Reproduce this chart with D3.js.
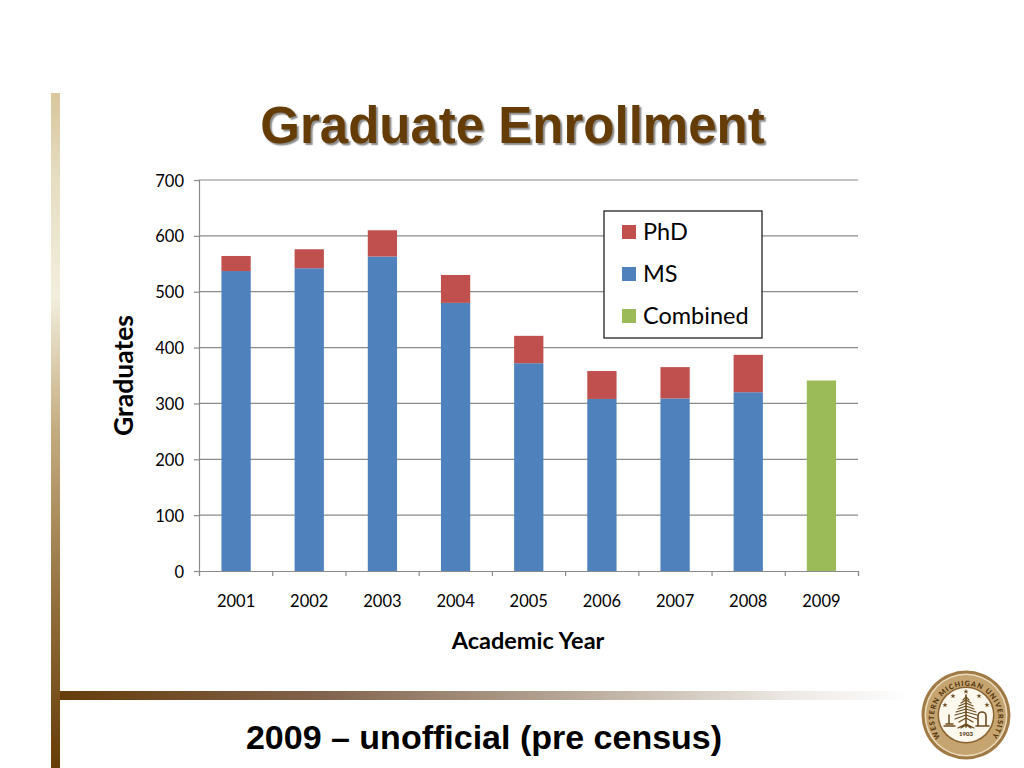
<!DOCTYPE html>
<html><head><meta charset="utf-8">
<script src="https://cdn.jsdelivr.net/npm/d3@7"></script>
<style>
html,body{margin:0;padding:0;background:#fff;overflow:hidden}
svg{display:block}
text{font-family:Lato,"Open Sans",sans-serif;fill:#000}
</style></head><body>
<svg id="c" width="1024" height="768"></svg>
<script>
const categories=["2001","2002","2003","2004","2005","2006","2007","2008","2009"];
const msValues=[537,542,563,480,372,308,309,320,0];
const phdValues=[27,34,47,50,49,50,56,67,0];
const combinedValues=[0,0,0,0,0,0,0,0,341];
const yTicks=[0,100,200,300,400,500,600,700];
const seriesNames=["PhD","MS","Combined"];
const seriesColors=["#c0504d","#4f81bd","#9bbb59"];
const titleText="Graduate Enrollment";
const footerText="2009 – unofficial (pre census)";
const xTitle="Academic Year";
const yTitle="Graduates";

const svg=d3.select("#c");
const defs=svg.append("defs");
const g1=defs.append("linearGradient").attr("id","vbar").attr("x1",0).attr("y1",0).attr("x2",0).attr("y2",1);
[[0,"#d8c69c"],[0.12,"#e6dcc0"],[0.3,"#f3eedd"],[0.5,"#c4ac80"],[0.75,"#94703e"],[1,"#663c06"]].forEach(d=>g1.append("stop").attr("offset",d[0]).attr("stop-color",d[1]));
const g2=defs.append("linearGradient").attr("id","hbar").attr("x1",0).attr("y1",0).attr("x2",1).attr("y2",0);
[[0,"#663c0a"],[0.3,"#80614a"],[0.6,"#b7a797"],[0.85,"#ece7e2"],[1,"#ffffff"]].forEach(d=>g2.append("stop").attr("offset",d[0]).attr("stop-color",d[1]));

svg.append("rect").attr("x",51).attr("y",93).attr("width",9).attr("height",675).attr("fill","url(#vbar)");
svg.append("rect").attr("x",60).attr("y",691).attr("width",850).attr("height",9).attr("fill","url(#hbar)");

svg.append("text").attr("x",512.5).attr("y",142.5).attr("text-anchor","middle")
  .style("font-family","Liberation Sans").style("font-weight",700).style("font-size","51px").style("fill","#663c06")
  .style("text-shadow","2px 2px 1.5px #8a8a8a").text(titleText);

const x=d3.scaleBand().domain(categories).range([199.5,858]).paddingInner(0.6).paddingOuter(0.3);
const xEdges=d3.scaleLinear().domain([0,categories.length]).range([199,858]);
const y=d3.scaleLinear().domain([0,700]).range([571,180]);

svg.append("g").selectAll("line").data(yTicks.slice(1)).join("line")
  .attr("x1",199).attr("x2",858).attr("y1",d=>y(d)).attr("y2",d=>y(d)).attr("stroke","#8a8a8a").attr("stroke-width",1.2);

const rows=categories.map((c,i)=>({c,MS:msValues[i],PhD:phdValues[i],Combined:combinedValues[i]}));
const stack=d3.stack().keys(["MS","PhD","Combined"])(rows);
const colorOf={PhD:seriesColors[0],MS:seriesColors[1],Combined:seriesColors[2]};
svg.append("g").selectAll("g").data(stack).join("g").attr("fill",s=>colorOf[s.key])
  .selectAll("rect").data(s=>s).join("rect")
  .attr("x",d=>x(d.data.c)).attr("width",x.bandwidth())
  .attr("y",d=>y(d[1])).attr("height",d=>y(d[0])-y(d[1]));

const ya=svg.append("g").attr("transform","translate(199,0)")
  .call(d3.axisLeft(y).tickValues(yTicks).tickSize(5).tickPadding(10));
const xa=svg.append("g").attr("transform","translate(0,571)")
  .call(d3.axisBottom(xEdges).tickValues(d3.range(categories.length+1)).tickSize(5).tickFormat(""));
[ya,xa].forEach(a=>{a.selectAll(".domain,line").attr("stroke","#8a8a8a").attr("stroke-width",1.2);});
ya.selectAll("text").style("font-size","16.5px").style("font-family","Lato").attr("fill","#000").attr("dy","0.37em");
svg.append("g").selectAll("text").data(categories).join("text")
  .attr("x",d=>x(d)+x.bandwidth()/2).attr("y",607).attr("text-anchor","middle").style("font-size","16.5px").text(d=>d);

svg.append("text").attr("x",528).attr("y",649).attr("text-anchor","middle").style("font-size","23.5px").style("font-weight",700).text(xTitle);
svg.append("text").attr("transform","translate(133,375.5) rotate(-90)").attr("text-anchor","middle").style("font-size","26.5px").style("font-weight",700).text(yTitle);

svg.append("rect").attr("x",604).attr("y",211).attr("width",158).attr("height",127).attr("fill","#fff").attr("stroke","#222").attr("stroke-width",1.3);
const ly=d3.scalePoint().domain(seriesNames).range([232,316]);
const lg=svg.append("g").selectAll("g").data(seriesNames).join("g");
lg.append("rect").attr("x",622).attr("y",d=>ly(d)-7).attr("width",14).attr("height",14).attr("fill",(d,i)=>seriesColors[i]);
lg.append("text").attr("x",643).attr("y",d=>ly(d)+8).style("font-size","23.5px").text(d=>d);

svg.append("text").attr("x",484).attr("y",749).attr("text-anchor","middle")
  .style("font-family","Liberation Sans").style("font-weight",700).style("font-size","34px").text(footerText);

// seal
const seal=svg.append("g").attr("transform","translate(966,715)");
seal.append("circle").attr("r",44.5).attr("fill","#a07a45");
seal.append("circle").attr("r",41.5).attr("fill","#eadbbd");
seal.append("circle").attr("r",40).attr("fill","#c6a46f");
seal.append("circle").attr("r",28.5).attr("fill","#8a6330");
seal.append("circle").attr("r",27).attr("fill","#fdf9ef");
seal.append("path").attr("id","arc").attr("d","M-23.5,24.5 A32,32 0 1 1 23.5,24.5").attr("fill","none");
seal.append("text").append("textPath").attr("href","#arc").attr("startOffset","50%").attr("text-anchor","middle")
  .style("font-size","7.2px").style("font-weight",900).style("fill","#54340f").style("letter-spacing","0.9px").text("WESTERN MICHIGAN UNIVERSITY");
seal.append("text").attr("y",20.5).attr("text-anchor","middle").style("font-size","6px").style("font-weight",900).style("fill","#54340f").text("1903");
const tree=seal.append("g").attr("stroke","#6b4a1e").attr("fill","none").attr("stroke-linecap","round");
tree.append("path").attr("d","M0,12V-20").attr("stroke-width",1.6);
tree.append("path").attr("d","M0,-18L-3,-15M0,-18L3,-15M0,-15L-5,-12M0,-15L5,-12M0,-12L-7,-9M0,-12L7,-9M0,-9L-8,-6M0,-9L8,-6M0,-6L-10,-3M0,-6L10,-3M0,-3L-11,0M0,-3L11,0M0,0L-11,4M0,0L11,4M0,3L-7,7M0,3L7,7M-8,13L0,9L8,13M-5,13L0,10L5,13").attr("stroke-width",1.2);
tree.append("path").attr("d","M-22,11H-11M-20,9H-13M-17,8V0").attr("stroke-width",1.5);
tree.append("path").attr("d","M12,11V1A4,4 0 0 1 20,1V11M10,11H23").attr("stroke-width",1.6);
seal.append("g").attr("fill","#6b4a1e").selectAll("path").data([[-13,-19],[0,-23.5],[13,-19],[-21,-10],[21,-10]]).join("path")
  .attr("transform",d=>`translate(${d[0]},${d[1]})`).attr("d",d3.symbol(d3.symbolStar,9));
</script>
</body></html>
